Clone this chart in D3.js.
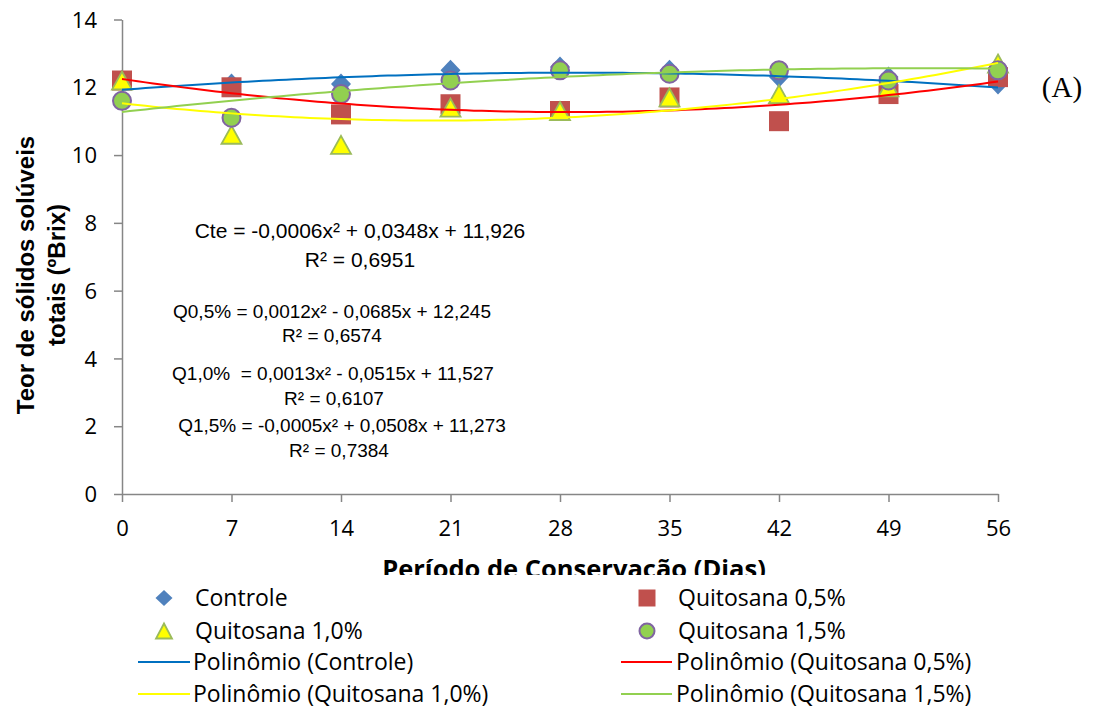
<!DOCTYPE html>
<html>
<head>
<meta charset="utf-8">
<script src="https://cdn.jsdelivr.net/npm/d3@7"></script>
<style>
  html, body { margin: 0; padding: 0; background: #fff; }
  svg { display: block; }
</style>
</head>
<body>
<svg id="chart" width="1093" height="711"></svg>
<script>
// Storage days (x axis)
const days = [0, 7, 14, 21, 28, 35, 42, 49, 56];
const yTicks = [0, 2, 4, 6, 8, 10, 12, 14];

// Total soluble solids (ºBrix) per treatment
const controle = [12.2, 12.1, 12.1, 12.5, 12.6, 12.5, 12.3, 12.3, 12.1];
const quit05   = [12.2, 12.0, 11.2, 11.5, 11.3, 11.7, 11.0, 11.8, 12.3];
const quit10   = [12.2, 10.6, 10.3, 11.4, 11.3, 11.7, 11.8, 12.0, 12.7];
const quit15   = [11.6, 11.1, 11.8, 12.2, 12.5, 12.4, 12.5, 12.2, 12.5];

// Quadratic trend coefficients [a, b, c] for a*x^2 + b*x + c
const coefControle = [-0.0006, 0.0348, 11.926];
const coef05 = [0.0012, -0.0685, 12.245];
const coef10 = [0.0013, -0.0515, 11.527];
const coef15 = [-0.0005, 0.0508, 11.273];

const seriesNames = ["Controle", "Quitosana 0,5%", "Quitosana 1,0%", "Quitosana 1,5%"];
const trendNames = ["Polinômio (Controle)", "Polinômio (Quitosana 0,5%)",
                    "Polinômio (Quitosana 1,0%)", "Polinômio (Quitosana 1,5%)"];

const svg = d3.select("#chart");

const x = d3.scaleLinear().domain([0, 56]).range([122, 998]);
const y = d3.scaleLinear().domain([0, 14]).range([494, 19.5]);

const axisColor = "#868686";
const tickFont = "'Open Sans', sans-serif";

// Y axis
const gy = svg.append("g").attr("transform", `translate(${x(0)},0)`)
  .call(d3.axisLeft(y).tickValues(yTicks).tickSize(8).tickSizeOuter(0).tickFormat(d3.format("d")));
gy.select(".domain").attr("stroke", axisColor).attr("stroke-width", 1.5);
gy.selectAll(".tick line").attr("stroke", axisColor).attr("stroke-width", 1.5);
gy.selectAll(".tick text").attr("x", -25).attr("dy", "0.35em")
  .attr("font-family", tickFont).attr("font-size", 22).attr("fill", "#000");

// X axis
const gx = svg.append("g").attr("transform", `translate(0,${y(0)})`)
  .call(d3.axisBottom(x).tickValues(days).tickSize(8).tickSizeOuter(0).tickFormat(d3.format("d")));
gx.select(".domain").attr("stroke", axisColor).attr("stroke-width", 1.5);
gx.selectAll(".tick line").attr("stroke", axisColor).attr("stroke-width", 1.5);
gx.selectAll(".tick text").attr("y", 34).attr("dy", "0.35em")
  .attr("font-family", tickFont).attr("font-size", 22).attr("fill", "#000");

// Marker shapes
function diamond(w, h) { return `M0,${-h}L${w},0L0,${h}L${-w},0Z`; }
function square(s) { return `M${-s},${-s}H${s}V${s}H${-s}Z`; }
function triangle(w, h) { return `M0,${-h}L${w},${h}L${-w},${h}Z`; }

const markerStyles = [
  { path: diamond(10, 10.5), fill: "#4F81BD", stroke: "none", sw: 0 },
  { path: square(10), fill: "#C0504D", stroke: "none", sw: 0 },
  { path: triangle(10, 9), fill: "#FFFF00", stroke: "#9BBB59", sw: 1.8 },
  { circle: 9, fill: "#92D050", stroke: "#8064A2", sw: 2 }
];
const legendMarkers = [
  { path: diamond(8.5, 8), fill: "#4F81BD", stroke: "none", sw: 0 },
  { path: square(8.5), fill: "#C0504D", stroke: "none", sw: 0 },
  { path: triangle(8, 7.5), fill: "#FFFF00", stroke: "#9BBB59", sw: 1.8 },
  { circle: 7.5, fill: "#92D050", stroke: "#8064A2", sw: 2 }
];
const lineColors = ["#0070C0", "#FF0000", "#FFFF00", "#92D050"];

function drawMarker(g, st) {
  if (st.circle) {
    return g.append("circle").attr("r", st.circle)
      .attr("fill", st.fill).attr("stroke", st.stroke).attr("stroke-width", st.sw);
  }
  return g.append("path").attr("d", st.path)
    .attr("fill", st.fill).attr("stroke", st.stroke).attr("stroke-width", st.sw);
}

// Data points
const allSeries = [controle, quit05, quit10, quit15];
allSeries.forEach((vals, i) => {
  const g = svg.append("g");
  vals.forEach((v, j) => {
    const m = g.append("g").attr("transform", `translate(${x(days[j])},${y(v)})`);
    drawMarker(m, markerStyles[i]);
  });
});

// Trend curves
const coefs = [coefControle, coef05, coef10, coef15];
const xs = d3.range(0, 56.01, 0.5);
const line = d3.line().x(d => x(d[0])).y(d => y(d[1]));
coefs.forEach((c, i) => {
  const pts = xs.map(t => [t, c[0] * t * t + c[1] * t + c[2]]);
  svg.append("path").attr("d", line(pts)).attr("fill", "none")
    .attr("stroke", lineColors[i]).attr("stroke-width", 2);
});

// Equation labels
const eqFont = "'Liberation Sans', Arial, sans-serif";
const eqs = [
  { t: "Cte = -0,0006x² + 0,0348x + 11,926", cx: 360, by: 238, fs: 21 },
  { t: "R² = 0,6951", cx: 360, by: 267, fs: 21 },
  { t: "Q0,5% = 0,0012x² - 0,0685x + 12,245", cx: 332, by: 318, fs: 19 },
  { t: "R² = 0,6574", cx: 332, by: 342, fs: 19 },
  { t: "Q1,0%  = 0,0013x² - 0,0515x + 11,527", cx: 333, by: 380, fs: 19 },
  { t: "R² = 0,6107", cx: 334, by: 405, fs: 19 },
  { t: "Q1,5% = -0,0005x² + 0,0508x + 11,273", cx: 342, by: 432, fs: 19 },
  { t: "R² = 0,7384", cx: 339, by: 457, fs: 19 }
];
eqs.forEach(e => {
  svg.append("text").attr("x", e.cx).attr("y", e.by).attr("text-anchor", "middle")
    .attr("font-family", eqFont).attr("font-size", e.fs).attr("fill", "#000")
    .style("white-space", "pre").text(e.t);
});

// Panel tag
svg.append("text").attr("x", 1062).attr("y", 97).attr("text-anchor", "middle")
  .attr("font-family", "'Liberation Serif', 'Times New Roman', serif")
  .attr("font-size", 29).attr("fill", "#000").text("(A)");

// Y axis title
const yTitle = svg.append("text")
  .attr("transform", "translate(0,275) rotate(-90)")
  .attr("text-anchor", "middle")
  .attr("font-family", eqFont).attr("font-weight", "bold")
  .attr("font-size", 24).attr("fill", "#000");
yTitle.append("tspan").attr("x", 0).attr("y", 34).text("Teor de sólidos solúveis");
yTitle.append("tspan").attr("x", 0).attr("y", 65).text("totais (ºBrix)");

// X axis title (partly overlapped by the legend box)
svg.append("text").attr("x", 574).attr("y", 578).attr("text-anchor", "middle")
  .attr("font-family", tickFont).attr("font-weight", "bold")
  .attr("font-size", 25.5).attr("fill", "#000").text("Período de Conservação (Dias)");

// Legend
const legend = svg.append("g");
legend.append("rect").attr("x", 120).attr("y", 575).attr("width", 880).attr("height", 136)
  .attr("fill", "#fff");

const colMarkerX = [164, 647], colTextX = [195, 678];
const colLineX = [[138, 190], [621, 672]];
const rowY = [598, 631, 662, 694];

seriesNames.forEach((name, i) => {
  const col = i % 2, row = Math.floor(i / 2);
  const m = legend.append("g").attr("transform", `translate(${colMarkerX[col]},${rowY[row]})`);
  drawMarker(m, legendMarkers[i]);
  legend.append("text").attr("x", colTextX[col]).attr("y", rowY[row]).attr("dy", "0.35em")
    .attr("font-family", tickFont).attr("font-size", 23).attr("fill", "#000").text(name);
});
trendNames.forEach((name, i) => {
  const col = i % 2, row = 2 + Math.floor(i / 2);
  legend.append("line").attr("x1", colLineX[col][0]).attr("x2", colLineX[col][1])
    .attr("y1", rowY[row]).attr("y2", rowY[row])
    .attr("stroke", lineColors[i]).attr("stroke-width", 2);
  legend.append("text").attr("x", colTextX[col] - 2).attr("y", rowY[row]).attr("dy", "0.35em")
    .attr("font-family", tickFont).attr("font-size", 23).attr("fill", "#000").text(name);
});
</script>
</body>
</html>
